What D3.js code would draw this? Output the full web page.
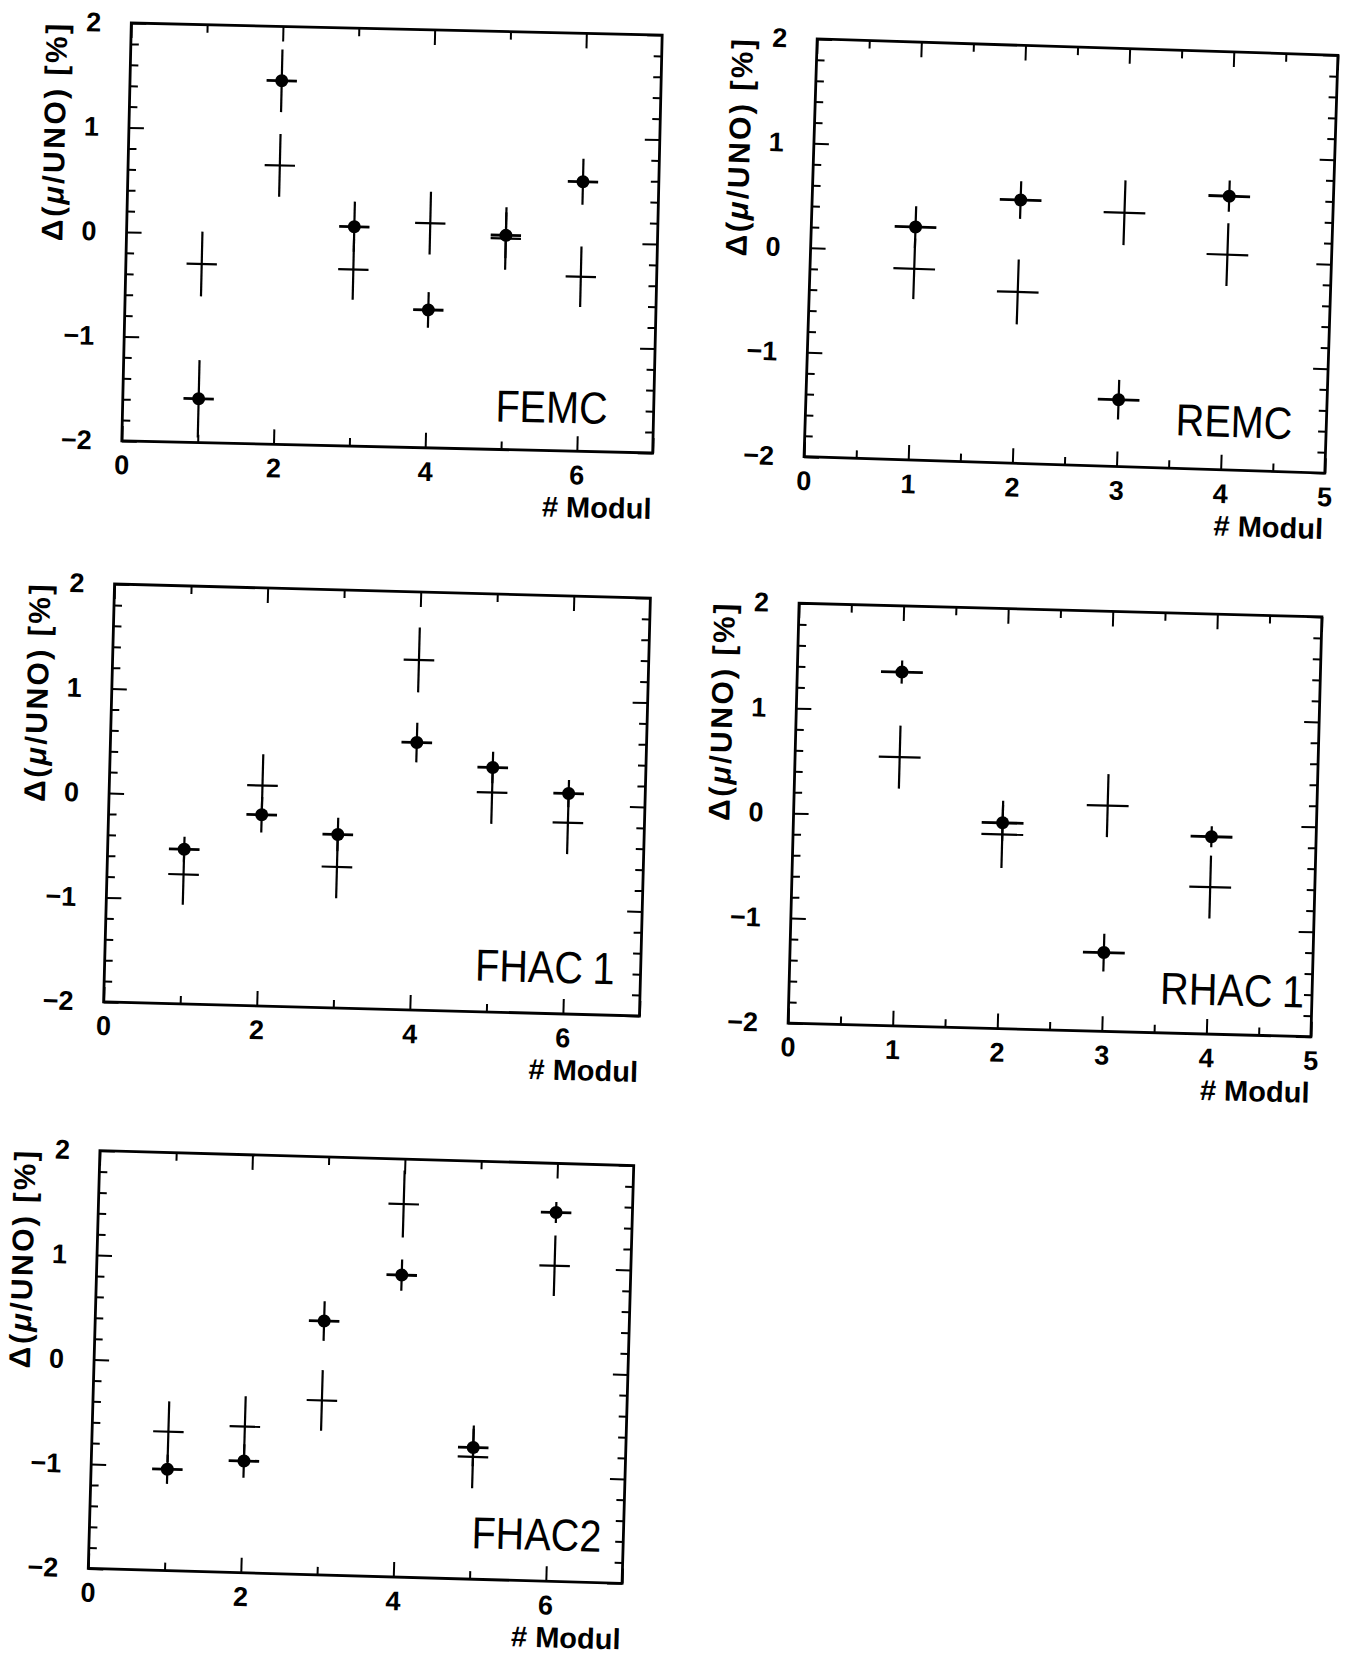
<!DOCTYPE html>
<html>
<head>
<meta charset="utf-8">
<script src="https://cdn.jsdelivr.net/npm/d3@7"></script>
<style>
  html, body { margin: 0; padding: 0; background: #fff; }
  svg { display: block; }
  text { font-family: "Liberation Sans", Arial, Helvetica, sans-serif; fill: #000; }
</style>
</head>
<body>
<svg id="fig" width="1350" height="1657"></svg>
<script>
// Module-by-module deviation of the muon response relative to UNO, in percent.
// "dot" = filled-circle series, "cross" = plain error-cross series.

const femcModul = [1, 2, 3, 4, 5, 6];
const femcDot = [-1.58, 1.48, 0.10, -0.68, 0.05, 0.58];
const femcDotErr = [0.37, 0.30, 0.24, 0.17, 0.22, 0.22];
const femcCross = [-0.29, 0.67, -0.31, 0.15, 0.02, -0.33];
const femcCrossErr = [0.31, 0.30, 0.29, 0.30, 0.30, 0.29];

const remcModul = [1, 2, 3, 4];
const remcDot = [0.23, 0.52, -1.36, 0.62];
const remcDotErr = [0.20, 0.18, 0.19, 0.15];
const remcCross = [-0.17, -0.36, 0.43, 0.06];
const remcCrossErr = [0.29, 0.31, 0.31, 0.30];

const fhac1Modul = [1, 2, 3, 4, 5, 6];
const fhac1Dot = [-0.52, -0.17, -0.34, 0.56, 0.34, 0.11];
const fhac1DotErr = [0.12, 0.17, 0.16, 0.19, 0.15, 0.13];
const fhac1Cross = [-0.76, 0.11, -0.65, 1.35, 0.10, -0.17];
const fhac1CrossErr = [0.29, 0.30, 0.30, 0.31, 0.30, 0.30];

const rhac1Modul = [1, 2, 3, 4];
const rhac1Dot = [1.37, -0.04, -1.25, -0.12];
const rhac1DotErr = [0.11, 0.17, 0.18, 0.10];
const rhac1Cross = [0.56, -0.15, 0.15, -0.60];
const rhac1CrossErr = [0.30, 0.32, 0.30, 0.30];

const fhac2Modul = [1, 2, 3, 4, 5, 6];
const fhac2Dot = [-1.03, -0.93, 0.43, 0.89, -0.74, 1.53];
const fhac2DotErr = [0.14, 0.16, 0.19, 0.15, 0.18, 0.10];
const fhac2Cross = [-0.67, -0.60, -0.33, 1.57, -0.83, 1.02];
const fhac2CrossErr = [0.29, 0.29, 0.29, 0.32, 0.30, 0.29];

const yDomain = [-2, 2];
const yMajorTicks = [-2, -1, 0, 1, 2];
const xHalfWidth = 0.2;   // horizontal half-width of every error cross, in modules

const xTitle = "# Modul";

// Panel placement: frame centre, frame size, slight tilt of the printed page,
// and where the detector name sits relative to the bottom-right frame corner.
const panels = [
  { name: "FEMC",  modul: femcModul,  dot: femcDot,  dotErr: femcDotErr,  cross: femcCross,  crossErr: femcCrossErr,
    xMax: 7, xMajor: [0, 2, 4, 6], xMinorStep: 1,   cx: 392,  cy: 238,  w: 531, h: 418, angle: 1.3, nameDx: 46, nameDy: 28 },
  { name: "REMC",  modul: remcModul,  dot: remcDot,  dotErr: remcDotErr,  cross: remcCross,  crossErr: remcCrossErr,
    xMax: 5, xMajor: [0, 1, 2, 3, 4, 5], xMinorStep: 0.5, cx: 1071, cy: 256,  w: 521, h: 418, angle: 1.8, nameDx: 34, nameDy: 33 },
  { name: "FHAC1", modul: fhac1Modul, dot: fhac1Dot, dotErr: fhac1DotErr, cross: fhac1Cross, crossErr: fhac1CrossErr,
    xMax: 7, xMajor: [0, 2, 4, 6], xMinorStep: 1,   cx: 377,  cy: 800,  w: 536, h: 418, angle: 1.5, nameDx: 26, nameDy: 31 },
  { name: "RHAC1", modul: rhac1Modul, dot: rhac1Dot, dotErr: rhac1DotErr, cross: rhac1Cross, crossErr: rhac1CrossErr,
    xMax: 5, xMajor: [0, 1, 2, 3, 4, 5], xMinorStep: 0.5, cx: 1055, cy: 820,  w: 523, h: 420, angle: 1.5, nameDx: 8,  nameDy: 29 },
  { name: "FHAC2", modul: fhac2Modul, dot: fhac2Dot, dotErr: fhac2DotErr, cross: fhac2Cross, crossErr: fhac2CrossErr,
    xMax: 7, xMajor: [0, 2, 4, 6], xMinorStep: 1,   cx: 361,  cy: 1367, w: 534, h: 418, angle: 1.6, nameDx: 22, nameDy: 31 }
];

const svg = d3.select("#fig");
const fmt = d3.format("");

function drawPanel(p) {
  const g = svg.append("g")
    .attr("transform", `translate(${p.cx},${p.cy}) rotate(${p.angle}) translate(${-p.w / 2},${-p.h / 2})`);

  const x = d3.scaleLinear().domain([0, p.xMax]).range([0, p.w]);
  const y = d3.scaleLinear().domain(yDomain).range([p.h, 0]);

  const yMinor = d3.range(-2, 2.0001, 0.2).map(v => +v.toFixed(2)).filter(v => !yMajorTicks.includes(v));
  const xMinor = d3.range(0, p.xMax + 0.0001, p.xMinorStep).map(v => +v.toFixed(2)).filter(v => !p.xMajor.includes(v) && v < p.xMax);

  const MAJ = 15, MIN = 8;

  function styleAxis(sel) {
    sel.select(".domain").remove();
    sel.selectAll(".tick line").attr("stroke", "#000").attr("stroke-width", 2);
    sel.selectAll(".tick text")
      .attr("font-size", 27).attr("font-weight", "bold")
      .style("font-family", "'Liberation Sans', Arial, sans-serif");
  }

  // left axis: labelled major ticks plus minor ticks, all pointing inwards
  g.append("g").call(d3.axisLeft(y).tickValues(yMajorTicks).tickSize(-MAJ).tickPadding(30).tickFormat(fmt)).call(styleAxis);
  g.append("g").call(d3.axisLeft(y).tickValues(yMinor).tickSize(-MIN).tickFormat("")).call(styleAxis);
  // right axis
  g.append("g").attr("transform", `translate(${p.w},0)`)
    .call(d3.axisRight(y).tickValues(yMajorTicks).tickSize(-MAJ).tickFormat("")).call(styleAxis);
  g.append("g").attr("transform", `translate(${p.w},0)`)
    .call(d3.axisRight(y).tickValues(yMinor).tickSize(-MIN).tickFormat("")).call(styleAxis);
  // bottom axis
  g.append("g").attr("transform", `translate(0,${p.h})`)
    .call(d3.axisBottom(x).tickValues(p.xMajor.concat([p.xMax]).filter((v, i, a) => a.indexOf(v) === i))
      .tickSize(-MAJ).tickPadding(14).tickFormat(v => (p.xMajor.includes(v) ? fmt(v) : "")))
    .call(styleAxis);
  g.append("g").attr("transform", `translate(0,${p.h})`)
    .call(d3.axisBottom(x).tickValues(xMinor).tickSize(-MIN).tickFormat("")).call(styleAxis);
  // top axis
  g.append("g").call(d3.axisTop(x).tickValues(p.xMajor).tickSize(-MAJ).tickFormat("")).call(styleAxis);
  g.append("g").call(d3.axisTop(x).tickValues(xMinor).tickSize(-MIN).tickFormat("")).call(styleAxis);

  // frame
  g.append("rect").attr("x", 0).attr("y", 0).attr("width", p.w).attr("height", p.h)
    .attr("fill", "none").attr("stroke", "#000").attr("stroke-width", 2.8);

  // y-axis title, ending level with the top of the frame
  const yt = g.append("text")
    .attr("transform", `translate(${-64},0) rotate(-90)`)
    .attr("text-anchor", "end")
    .attr("font-size", 30).attr("font-weight", "bold")
    .style("letter-spacing", "2.5px");
  yt.append("tspan").text("Δ(");
  yt.append("tspan").attr("font-style", "italic").text("μ");
  yt.append("tspan").text("/UNO) [%]");

  // x-axis title, right-aligned under the frame
  g.append("text")
    .attr("x", p.w).attr("y", p.h + 66)
    .attr("text-anchor", "end")
    .attr("font-size", 29).attr("font-weight", "bold")
    .text(xTitle);

  // detector name inside the frame, bottom right, in a slightly condensed face;
  // a trailing "1" is set a little apart as in the printed labels
  const m = p.name.match(/^(\D+)(\d*)$/);
  const nm = g.append("text")
    .attr("transform", `translate(${p.w - p.nameDx},${p.h - p.nameDy}) scale(0.88,1)`)
    .attr("text-anchor", "end")
    .attr("font-size", 45);
  nm.append("tspan").text(m[1]);
  if (m[2]) nm.append("tspan").attr("dx", m[2] === "1" ? 11 : 0).text(m[2]);

  const clip = v => Math.max(yDomain[0], Math.min(yDomain[1], v));

  function drawSeries(vals, errs, withDot) {
    const data = p.modul.map((mod, i) => ({ m: mod, v: vals[i], e: errs[i] }));
    const s = g.append("g").attr("stroke", "#000").attr("stroke-width", 2.2);
    s.selectAll("line.v").data(data).join("line").attr("class", "v")
      .attr("x1", d => x(d.m)).attr("x2", d => x(d.m))
      .attr("y1", d => y(clip(d.v - d.e))).attr("y2", d => y(clip(d.v + d.e)));
    s.selectAll("line.h").data(data).join("line").attr("class", "h")
      .attr("x1", d => x(d.m - xHalfWidth)).attr("x2", d => x(d.m + xHalfWidth))
      .attr("y1", d => y(d.v)).attr("y2", d => y(d.v))
      .attr("stroke-width", withDot ? 2.8 : 2.2);
    if (withDot) {
      g.append("g").selectAll("circle").data(data).join("circle")
        .attr("cx", d => x(d.m)).attr("cy", d => y(d.v)).attr("r", 6.5).attr("fill", "#000");
    }
  }

  drawSeries(p.cross, p.crossErr, false);
  drawSeries(p.dot, p.dotErr, true);
}

panels.forEach(drawPanel);
</script>
</body>
</html>
